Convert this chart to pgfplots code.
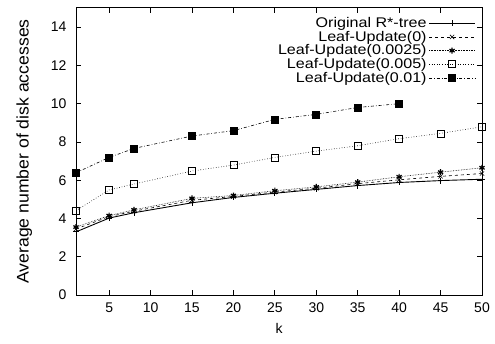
\documentclass[border=0pt]{standalone}
\usepackage{pgfplots}
\pgfplotsset{compat=1.18}
\usepackage{fontspec}
\setmainfont{Liberation Sans}
\newfontfamily\legfont[FakeStretch=1.15]{Liberation Sans}
\newfontfamily\labfont[FakeStretch=1.05]{Liberation Sans}
\begin{document}
\begin{tikzpicture}
\begin{axis}[
  scale only axis, width=406pt, height=287pt,
  xmin=1, xmax=50, ymin=0, ymax=15,
  xtick={5,10,...,50}, ytick={0,2,...,14},
  tick align=inside, major tick length=5pt,
  axis line style={line width=1pt}, tick style={line width=0.8pt, black},
  /pgf/number format/assume math mode=true,
  ticklabel style={font=\fontsize{14}{16}\selectfont},
  xticklabel style={yshift=-4pt},
  yticklabel style={xshift=-6pt},
  xlabel={k}, ylabel={Average number of disk accesses},
  xlabel style={font=\fontsize{14}{16}\selectfont, yshift=-4pt},
  ylabel style={font=\labfont\fontsize{16.8}{18}\selectfont, yshift=12pt},
  legend style={draw=none, fill=none, at={(rel axis cs:0.987,0.978)}, anchor=north east,
    legend cell align=right, font=\legfont\fontsize{14}{15}\selectfont, row sep=-2pt, inner sep=1pt},
  legend plot pos=right,
  legend image code/.code={\draw[mark repeat=2,mark phase=2,#1] plot coordinates {(0pt,0pt)(23pt,0pt)(46pt,0pt)};},
  every axis plot/.append style={black, line width=0.6pt},
]
\addplot[solid, line width=0.9pt, mark=+, mark size=3pt] coordinates {
(1,3.3)(5,4.02)(8,4.3)(15,4.82)(20,5.1)(25,5.32)(30,5.52)(35,5.72)(40,5.88)(45,5.98)(50,6.05)};
\addlegendentry{Original R*-tree}
\addplot[dashed, mark=x, mark size=3pt, mark options={solid}] coordinates {
(1,3.45)(5,4.1)(8,4.38)(15,4.95)(20,5.15)(25,5.38)(30,5.58)(35,5.82)(40,6.02)(45,6.2)(50,6.35)};
\addlegendentry{Leaf-Update(0)}
\addplot[densely dotted, mark=asterisk, mark size=3pt, mark options={solid, line width=1.2pt}] coordinates {
(1,3.55)(5,4.15)(8,4.45)(15,5.05)(20,5.2)(25,5.45)(30,5.65)(35,5.9)(40,6.18)(45,6.42)(50,6.65)};
\addlegendentry{Leaf-Update(0.0025)}
\addplot[dotted, mark=square, mark size=3.5pt, mark options={solid}] coordinates {
(1,4.41)(5,5.49)(8,5.8)(15,6.48)(20,6.79)(25,7.19)(30,7.52)(35,7.8)(40,8.17)(45,8.45)(50,8.79)};
\addlegendentry{Leaf-Update(0.005)}
\addplot[dash dot, mark=square*, mark size=3.5pt, mark options={solid}] coordinates {
(1,6.39)(5,7.19)(8,7.66)(15,8.31)(20,8.59)(25,9.18)(30,9.44)(35,9.8)(40,10.0)};
\addlegendentry{Leaf-Update(0.01)}
\end{axis}
\pgfresetboundingbox
\path ([xshift=-76pt,yshift=-48pt]current axis.south west) rectangle ([xshift=13pt,yshift=8pt]current axis.north east);
\end{tikzpicture}
\end{document}
